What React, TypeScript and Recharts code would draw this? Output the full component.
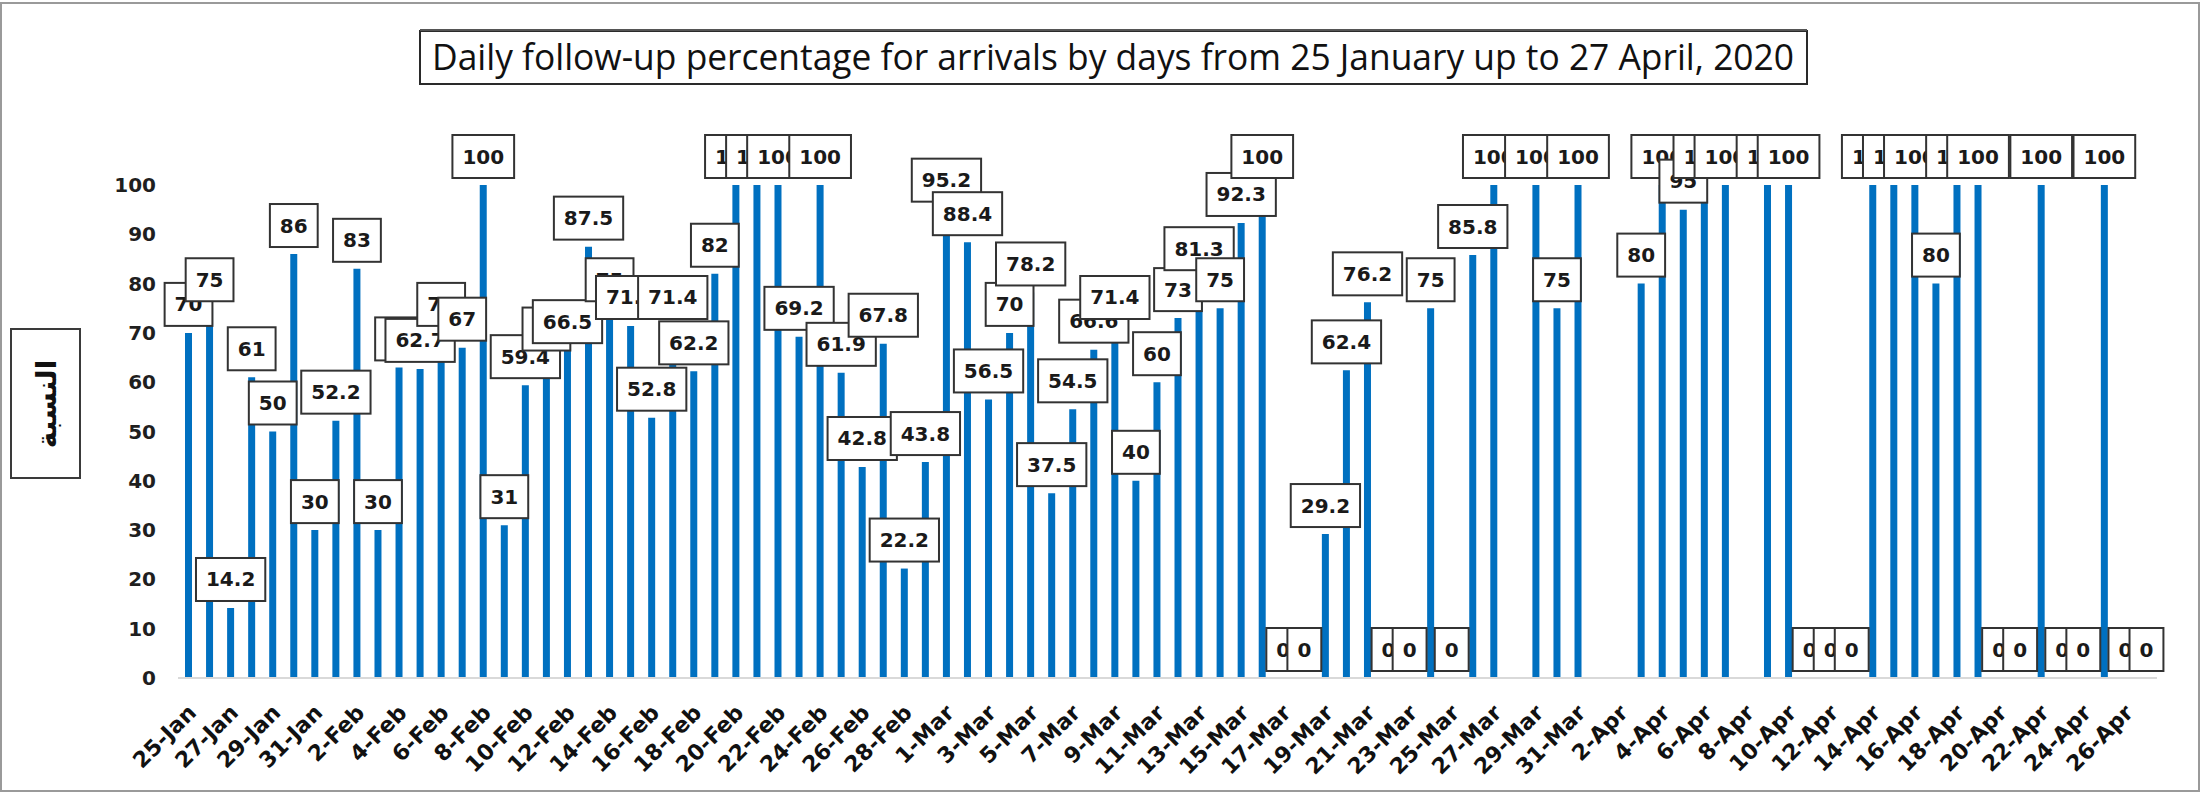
import React from "react";
import { ComposedChart, Bar, Line, XAxis, YAxis, LabelList } from "recharts";

const dates: string[] = [
  "25-Jan","26-Jan","27-Jan","28-Jan","29-Jan","30-Jan","31-Jan",
  "1-Feb","2-Feb","3-Feb","4-Feb","5-Feb","6-Feb","7-Feb","8-Feb","9-Feb","10-Feb",
  "11-Feb","12-Feb","13-Feb","14-Feb","15-Feb","16-Feb","17-Feb","18-Feb","19-Feb","20-Feb",
  "21-Feb","22-Feb","23-Feb","24-Feb","25-Feb","26-Feb","27-Feb","28-Feb","29-Feb",
  "1-Mar","2-Mar","3-Mar","4-Mar","5-Mar","6-Mar","7-Mar","8-Mar","9-Mar","10-Mar",
  "11-Mar","12-Mar","13-Mar","14-Mar","15-Mar","16-Mar","17-Mar","18-Mar","19-Mar","20-Mar",
  "21-Mar","22-Mar","23-Mar","24-Mar","25-Mar","26-Mar","27-Mar","28-Mar","29-Mar","30-Mar","31-Mar",
  "1-Apr","2-Apr","3-Apr","4-Apr","5-Apr","6-Apr","7-Apr","8-Apr","9-Apr","10-Apr",
  "11-Apr","12-Apr","13-Apr","14-Apr","15-Apr","16-Apr","17-Apr","18-Apr","19-Apr","20-Apr",
  "21-Apr","22-Apr","23-Apr","24-Apr","25-Apr","26-Apr","27-Apr",
];

const percentages: (number | null)[] = [
  70, 75, 14.2, 61, 50, 86, 30, 52.2, 83, 30,
  63, 62.7, 70, 67, 100, 31, 59.4, 65, 66.5, 87.5,
  75, 71.4, 52.8, 71.4, 62.2, 82, 100, 100, 100, 69.2,
  100, 61.9, 42.8, 67.8, 22.2, 43.8, 95.2, 88.4, 56.5, 70,
  78.2, 37.5, 54.5, 66.6, 71.4, 40, 60, 73, 81.3, 75,
  92.3, 100, 0, 0, 29.2, 62.4, 76.2, 0, 0, 75,
  0, 85.8, 100, null, 100, 75, 100, null, null, 80,
  100, 95, 100, 100, null, 100, 100, 0, 0, 0,
  100, 100, 100, 80, 100, 100, 0, 0, 100, 0,
  0, 100, 0, 0,
];

const yTicks: number[] = [0, 10, 20, 30, 40, 50, 60, 70, 80, 90, 100];

const titleText = "Daily follow-up percentage for arrivals by days from 25 January up  to 27 April, 2020";
const yLabelText = "النسبة";

const data = dates.map((d, i) => ({ date: d, value: percentages[i] }));

const FONT = "'DejaVu Sans', Verdana, sans-serif";

const textWidth = (s: string) => {
  let w = 0;
  for (const ch of s) w += ch === "." ? 7.6 : 13.9;
  return w;
};

const BoxLabel = (props: any) => {
  const { value } = props;
  if (value === null || value === undefined) return null;
  const vb = props.viewBox || {};
  const px = vb.x !== undefined ? vb.x : props.x;
  const py = vb.y !== undefined ? vb.y : props.y;
  const pw = vb.width !== undefined ? vb.width : props.width || 0;
  if (px === undefined || py === undefined || isNaN(Number(py))) return null;
  const s = String(value);
  const w = textWidth(s) + 20;
  const h = 43;
  const cx = Number(px) + Number(pw || 0) / 2;
  const bottom = Number(py) - 7;
  return (
    <g>
      <rect x={cx - w / 2} y={bottom - h} width={w} height={h} fill="#ffffff" stroke="#333333" strokeWidth={2} />
      <text x={cx} y={bottom - h / 2 + 7} textAnchor="middle" fontFamily={FONT} fontWeight="bold" fontSize={20} fill="#1a1a1a">
        {s}
      </text>
    </g>
  );
};

const YTick = (props: any) => {
  const { y, payload } = props;
  return (
    <text x={156} y={y} dy={7} textAnchor="end" fontFamily={FONT} fontWeight="bold" fontSize={20} fill="#1f1f1f">
      {payload.value}
    </text>
  );
};

const XTick = (props: any) => {
  const { x, payload } = props;
  return (
    <g transform={`translate(${x + 9},${714})`}>
      <text transform="rotate(-45)" textAnchor="end" fontFamily={FONT} fontWeight="bold" fontSize={22} fill="#111111">
        {payload.value}
      </text>
    </g>
  );
};

export default function App() {
  return (
    <div style={{ position: "absolute", left: 0, top: 0, width: 2202, height: 794, background: "#ffffff" }}>
      <ComposedChart width={2202} height={794} data={data} margin={{ top: 185, right: 45, bottom: 16, left: 118 }}>
        <XAxis
          dataKey="date"
          interval={1}
          height={100}
          tickLine={false}
          axisLine={{ stroke: "#d9d9d9", strokeWidth: 2 }}
          tick={<XTick />}
        />
        <YAxis domain={[0, 100]} ticks={yTicks} width={60} axisLine={false} tickLine={false} tick={<YTick />} />
        <Bar dataKey="value" fill="#0070C0" barSize={7} isAnimationActive={false} />
        <Line
          dataKey="value"
          stroke="none"
          dot={false}
          activeDot={false}
          legendType="none"
          isAnimationActive={false}
        >
          <LabelList dataKey="value" content={<BoxLabel />} />
        </Line>
      </ComposedChart>
      <svg width={2202} height={794} style={{ position: "absolute", left: 0, top: 0, pointerEvents: "none" }}>
        <rect x={1} y={3} width={2198} height={788} fill="none" stroke="#9a9a9a" strokeWidth={2} />
        <rect x={420} y={31} width={1387} height={53} fill="#ffffff" stroke="#2a2a2a" strokeWidth={2} />
        <line x1={420} y1={30} x2={1807} y2={30} stroke="#555" strokeWidth={2} />
        <text
          x={1113}
          y={70}
          textAnchor="middle"
          fontFamily="'Open Sans', sans-serif"
          fontSize={36}
          fill="#111111"
          textLength={1362}
          lengthAdjust="spacingAndGlyphs"
        >
          {titleText}
        </text>
        <rect x={11} y={329} width={69} height={149} fill="#ffffff" stroke="#3a3a3a" strokeWidth={2} />
        <text
          x={0}
          y={0}
          transform="translate(56,404) rotate(-90)"
          textAnchor="middle"
          fontFamily="'DejaVu Sans', sans-serif"
          fontWeight="bold"
          fontSize={28}
          fill="#111111"
        >
          {yLabelText}
        </text>
      </svg>
    </div>
  );
}
